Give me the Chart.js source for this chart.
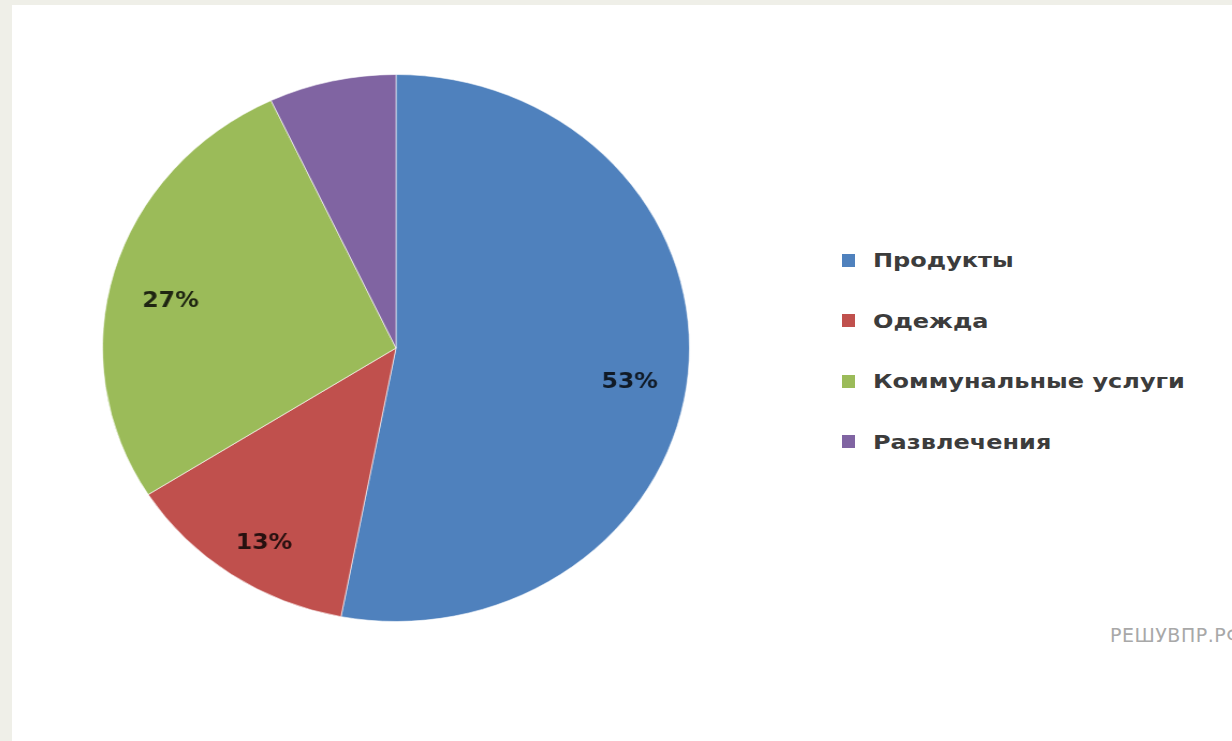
<!DOCTYPE html>
<html lang="ru">
<head>
<meta charset="utf-8">
<script src="https://cdn.jsdelivr.net/npm/chart.js@4/dist/chart.umd.min.js"></script>
<style>
  html, body { margin: 0; padding: 0; }
  body { width: 1232px; height: 741px; background: #efefe8; overflow: hidden; position: relative; }
  #panel { position: absolute; left: 12px; top: 5px; right: 0; bottom: 0; background: #fff; }
  #pie-wrap { position: absolute; left: 116px; top: 68px; width: 560px; height: 560px; transform: scaleX(1.073); transform-origin: 50% 50%; }
  #legend { position: absolute; left: 842px; top: 0; font-family: "DejaVu Sans", sans-serif; font-size: 20px; font-weight: bold; color: #3c3c3c; }
  .item { position: absolute; white-space: nowrap; display: flex; align-items: center; }
  .swatch { width: 13px; height: 13px; margin-right: 18px; }
  .name { display: inline-block; transform: scaleX(1.2); transform-origin: 0 50%; }
  #mark { position: absolute; left: 1110px; top: 624px; font-family: "DejaVu Sans", sans-serif; font-size: 19px; color: #a8a8a8; white-space: nowrap; letter-spacing: 0.5px; }
</style>
</head>
<body>
<div id="panel"></div>
<div id="pie-wrap"><canvas id="chart" width="560" height="560"></canvas></div>
<div id="legend"></div>
<div id="mark">РЕШУВПР.РФ</div>
<script>
const categories = ['Продукты', 'Одежда', 'Коммунальные услуги', 'Развлечения'];
const shares = [53, 13, 27, 7];
const sliceLabels = ['53%', '13%', '27%', ''];
const colors = ['#4f81bd', '#c0504d', '#9bbb59', '#8064a2'];

// legend as plain html next to the pie
const legendEl = document.getElementById('legend');
categories.forEach((name, i) => {
  const item = document.createElement('div');
  item.className = 'item';
  item.style.top = (248 + i * 60.5) + 'px';
  item.innerHTML = `<span class="swatch" style="background:${colors[i]}"></span><span class="name">${name}</span>`;
  legendEl.appendChild(item);
});

// draws the percent text inside each slice
const sliceText = {
  id: 'sliceText',
  afterDatasetsDraw(chart) {
    const ctx = chart.ctx;
    const meta = chart.getDatasetMeta(0);
    ctx.save();
    ctx.font = 'bold 22px "DejaVu Sans", sans-serif';
    ctx.fillStyle = 'rgba(0, 0, 0, 0.8)';
    ctx.textAlign = 'center';
    ctx.textBaseline = 'middle';
    meta.data.forEach((arc, i) => {
      if (!sliceLabels[i]) return;
      const p = arc.getProps(['x', 'y', 'startAngle', 'endAngle', 'outerRadius'], true);
      const mid = (p.startAngle + p.endAngle) / 2;
      const r = p.outerRadius * 0.8;
      // excel sits its labels a little below the radial point
      ctx.fillText(sliceLabels[i], p.x + Math.cos(mid) * r, p.y + Math.sin(mid) * r + 14);
    });
    ctx.restore();
  },
};

const ctx = document.getElementById('chart').getContext('2d');
new Chart(ctx, {
  type: 'pie',
  data: {
    labels: categories,
    datasets: [{
      data: shares,
      backgroundColor: colors,
      borderColor: 'rgba(255, 255, 255, 0.6)',
      borderWidth: 1,
    }],
  },
  options: {
    responsive: false,
    animation: false,
    layout: { padding: 6 },
    plugins: {
      legend: { display: false },
      tooltip: { enabled: false },
    },
  },
  plugins: [sliceText],
});
</script>
</body>
</html>
